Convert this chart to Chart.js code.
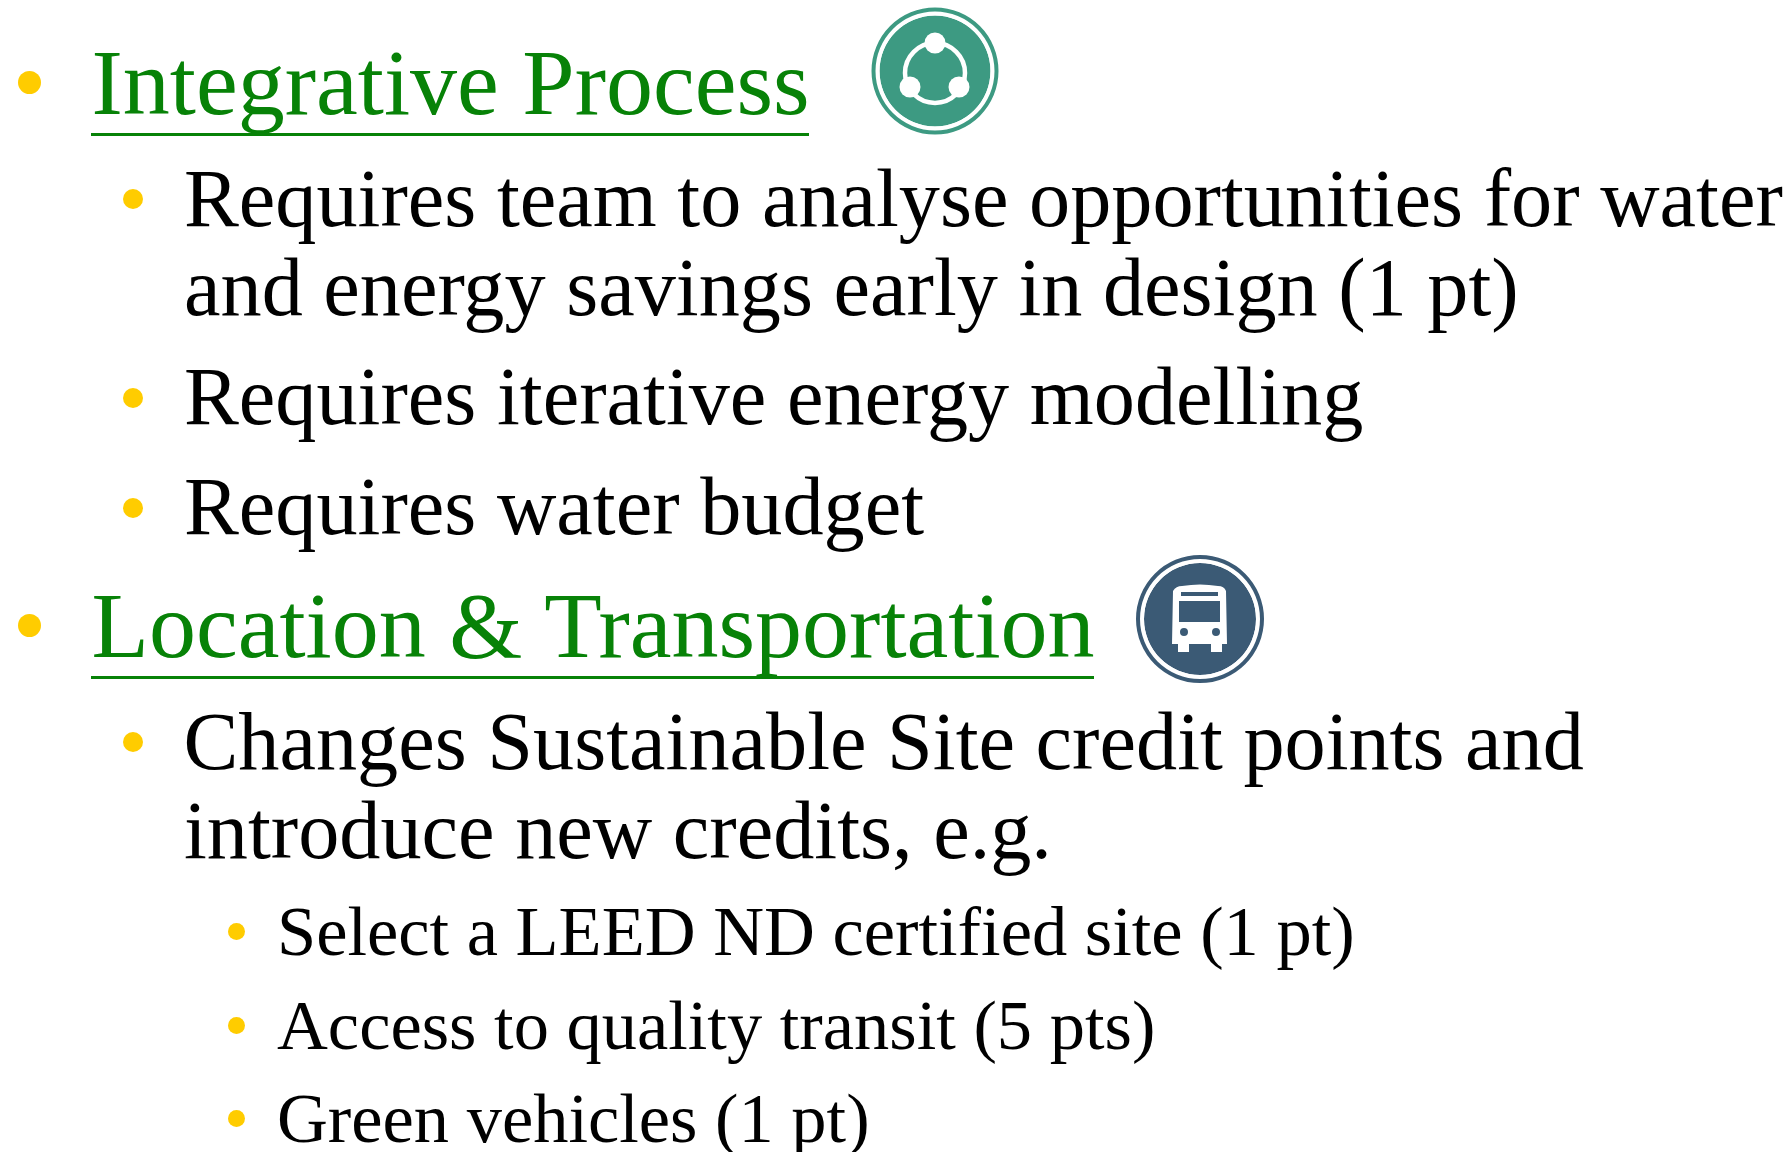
<!DOCTYPE html>
<html>
<head>
<meta charset="utf-8">
<title>Integrative Process</title>
<script src="https://cdn.jsdelivr.net/npm/chart.js@4"></script>
<style>
html, body { margin: 0; padding: 0; background: #fff; }
#page { position: relative; width: 1791px; height: 1152px; overflow: hidden; font-family: "Liberation Serif", serif; }
.line { position: absolute; white-space: pre; color: #000; }
.h { font-size: 94.05px; line-height: 94.05px; color: #078207; }
.l2 { font-size: 82.25px; line-height: 82.25px; }
.l3 { font-size: 70.45px; line-height: 70.45px; }
.rule { position: absolute; height: 3px; background: #078207; }
.dot { position: absolute; border-radius: 50%; background: #ffcc00; }
.icon { position: absolute; width: 130px; height: 130px; }
</style>
</head>
<body>
<div id="page"></div>
<script>
// -------------------------------
// SLIDE TEXT
// -------------------------------
const headings = ["Integrative Process", "Location & Transportation"];
const team = ["Requires team to analyse opportunities for water", "and energy savings early in design (1 pt)"];
const modelling = ["Requires iterative energy modelling", "Requires water budget"];
const changes = ["Changes Sustainable Site credit points and", "introduce new credits, e.g."];
const credits = ["Select a LEED ND certified site (1 pt)", "Access to quality transit (5 pts)", "Green vehicles (1 pt)"];

// -------------------------------
// ICON RINGS (outer band, white gap, inner disc)
// -------------------------------
const ringParts = ["band"];
const ringValues = [1];

const page = document.getElementById("page");

// baseline sits .8375em below the top when line-height is 1em (Liberation Serif metrics)
function addLine(text, cls, x, baseline, size) {
    let el = document.createElement("div");
    el.className = "line " + cls;
    el.textContent = text;
    el.style.left = x + "px";
    el.style.top = (baseline - size * 0.8375) + "px";
    page.appendChild(el);
    return el;
}

function addDot(x, y, r) {
    let el = document.createElement("div");
    el.className = "dot";
    el.style.left = (x - r) + "px";
    el.style.top = (y - r) + "px";
    el.style.width = el.style.height = (r * 2) + "px";
    page.appendChild(el);
}

function addHeading(text, baseline, ruleY, dotY) {
    let el = addLine(text, "h", 91.5, baseline, 94.05);
    let rule = document.createElement("div");
    rule.className = "rule";
    rule.style.left = "91px";
    rule.style.top = ruleY + "px";
    rule.style.width = el.offsetWidth + "px";
    page.appendChild(rule);
    addDot(29, dotY, 11.5);
}

addHeading(headings[0], 113.5, 133, 82.5);
addDot(133, 199, 10);
addLine(team[0], "l2", 184, 227.2, 82.25);
addLine(team[1], "l2", 184, 316.2, 82.25);
addDot(133, 397.5, 10);
addLine(modelling[0], "l2", 184, 425.2, 82.25);
addDot(133, 507.5, 10);
addLine(modelling[1], "l2", 184, 535.2, 82.25);

addHeading(headings[1], 657, 676, 625.5);
addDot(133, 741.5, 10);
addLine(changes[0], "l2", 183.5, 769.5, 82.25);
addLine(changes[1], "l2", 184, 859.2, 82.25);
addDot(236, 931.5, 8.5);
addLine(credits[0], "l3", 277, 954.7, 70.45);
addDot(236, 1025.5, 8.5);
addLine(credits[1], "l3", 277, 1048.7, 70.45);
addDot(236, 1118.5, 8.5);
addLine(credits[2], "l3", 277, 1142, 70.45);

// -------------------------------
// ICON GLYPHS
// -------------------------------
function drawNodes(ctx) {
    ctx.strokeStyle = "#fff";
    ctx.fillStyle = "#fff";
    ctx.lineWidth = 4.5;
    ctx.beginPath();
    ctx.arc(0, 2, 30, 0, Math.PI * 2);
    ctx.stroke();
    [[0, -28], [-25, 16], [24, 16]].forEach(p => {
        ctx.beginPath();
        ctx.arc(p[0], p[1], 10.5, 0, Math.PI * 2);
        ctx.fill();
    });
}

function drawBus(ctx, color) {
    ctx.fillStyle = "#fff";
    // body
    ctx.beginPath();
    ctx.moveTo(-28, 25);
    ctx.lineTo(-27, -28);
    ctx.quadraticCurveTo(-24, -33, -18, -33);
    ctx.quadraticCurveTo(0, -36, 18, -33);
    ctx.quadraticCurveTo(24, -33, 26, -28);
    ctx.lineTo(27, 25);
    ctx.closePath();
    ctx.fill();
    // wheels
    ctx.fillRect(-22, 25, 11, 8);
    ctx.fillRect(11, 25, 11, 8);
    // windscreen, top slit, lights
    ctx.fillStyle = color;
    ctx.fillRect(-21, -18, 41, 21);
    ctx.fillRect(-19, -27, 37, 4);
    ctx.beginPath();
    ctx.arc(-16, 13, 4, 0, Math.PI * 2);
    ctx.arc(16, 13, 4, 0, Math.PI * 2);
    ctx.fill();
}

const glyphPlugin = {
    id: "glyph",
    afterDraw(chart, args, opts) {
        let ctx = chart.ctx;
        ctx.save();
        ctx.translate(chart.width / 2, chart.height / 2);
        if (opts.kind === "nodes") drawNodes(ctx);
        else drawBus(ctx, opts.color);
        ctx.restore();
    }
};

function addIcon(cx, cy, outer, color, kind) {
    let box = document.createElement("div");
    box.className = "icon";
    box.style.left = (cx - 65) + "px";
    box.style.top = (cy - 65) + "px";
    let canvas = document.createElement("canvas");
    box.appendChild(canvas);
    page.appendChild(box);

    new Chart(canvas, {
        type: "doughnut",
        plugins: [glyphPlugin],
        data: {
            labels: ringParts,
            datasets: [
                { data: ringValues, backgroundColor: color, borderWidth: 0, weight: 4 },
                { data: ringValues, backgroundColor: "#fff", borderWidth: 0, weight: 4 },
                { data: ringValues, backgroundColor: color, borderWidth: 0, weight: outer - 8 }
            ]
        },
        options: {
            responsive: true,
            maintainAspectRatio: false,
            animation: false,
            cutout: 0,
            layout: { padding: 65 - outer },
            plugins: {
                legend: { display: false },
                tooltip: { enabled: false },
                glyph: { kind: kind, color: color }
            }
        }
    });
}

addIcon(935, 71, 63.5, "#3d9a82", "nodes");
addIcon(1200, 619, 64, "#3b5a75", "bus");
</script>
</body>
</html>
